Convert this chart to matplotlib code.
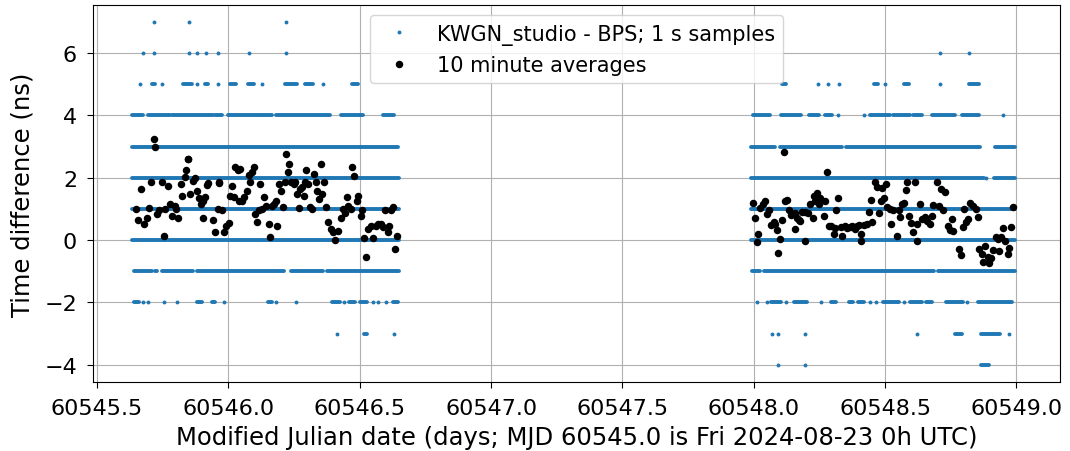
import numpy as np
import matplotlib.pyplot as plt
from matplotlib.ticker import FormatStrFormatter

# ---- 1 s samples (integer ns levels): runs of samples and lone samples, MJD ----
runs_p7 = []
dots_p7 = [60545.717, 60545.850, 60546.220]

runs_p6 = []
dots_p6 = [60545.675, 60545.717, 60545.850, 60545.879, 60545.914, 60545.962,
           60546.079, 60546.220, 60548.710, 60548.821]

runs_p5 = [(60545.708, 60545.721), (60545.829, 60545.860), (60545.911, 60545.924),
           (60546.006, 60546.029), (60546.076, 60546.098), (60546.216, 60546.260),
           (60546.292, 60546.324), (60546.470, 60546.495),
           (60548.107, 60548.124), (60548.456, 60548.472), (60548.571, 60548.590),
           (60548.818, 60548.856)]
dots_p5 = [60545.664, 60545.749, 60545.880, 60545.962, 60546.127, 60546.359,
           60548.243, 60548.281, 60548.323, 60548.501, 60548.708]

runs_p4 = [(60545.635, 60545.676), (60545.693, 60545.778), (60545.784, 60545.943),
           (60545.949, 60545.975), (60545.998, 60546.108), (60546.114, 60546.165),
           (60546.180, 60546.387), (60546.428, 60546.512), (60546.588, 60546.631),
           (60547.997, 60548.063), (60548.104, 60548.180), (60548.209, 60548.249),
           (60548.272, 60548.298), (60548.441, 60548.517), (60548.530, 60548.596),
           (60548.606, 60548.640), (60548.679, 60548.767), (60548.793, 60548.856)]
dots_p4 = [60548.321, 60548.418, 60548.948]

runs_p3 = [(60545.635, 60546.645), (60547.989, 60548.082), (60548.098, 60548.336),
           (60548.352, 60548.860), (60548.920, 60548.996)]
dots_p3 = []

runs_p2 = [(60545.635, 60546.648), (60547.989, 60548.875), (60548.916, 60548.996)]
dots_p2 = [60548.885]

runs_p1 = [(60545.635, 60546.648), (60547.989, 60548.996)]
dots_p1 = []

runs_0 = [(60545.635, 60546.648), (60547.989, 60548.996)]
dots_0 = []

runs_m1 = [(60545.642, 60545.708), (60545.721, 60545.730), (60545.746, 60545.867),
           (60545.880, 60546.210), (60546.238, 60546.359), (60546.375, 60546.650),
           (60547.993, 60548.025), (60548.040, 60548.687), (60548.700, 60548.996)]
dots_m1 = []

runs_m2 = [(60545.642, 60545.661), (60545.882, 60545.899), (60545.937, 60545.949),
           (60546.152, 60546.165), (60546.396, 60546.425), (60546.461, 60546.483),
           (60546.502, 60546.527), (60546.628, 60546.647),
           (60548.065, 60548.104), (60548.154, 60548.203), (60548.294, 60548.314),
           (60548.361, 60548.378), (60548.395, 60548.421), (60548.492, 60548.552),
           (60548.596, 60548.640), (60548.657, 60548.679), (60548.733, 60548.797),
           (60548.852, 60548.983)]
dots_m2 = [60545.676, 60545.695, 60545.756, 60545.803, 60545.984, 60546.180,
           60546.258, 60546.441, 60546.550, 60546.571, 60546.601,
           60548.012, 60548.050, 60548.124, 60548.257, 60548.441, 60548.467,
           60548.573, 60548.812]

runs_m3 = [(60546.517, 60546.527), (60548.765, 60548.793), (60548.863, 60548.939)]
dots_m3 = [60546.413, 60546.632, 60548.069, 60548.092, 60548.196, 60548.621, 60548.970]

runs_m4 = [(60548.863, 60548.894)]
dots_m4 = [60548.091, 60548.196]

# ---- 10 minute averages ----
avg_mjd = [
    60545.649, 60545.657, 60545.666, 60545.680, 60545.689, 60545.699, 60545.706,
    60545.715, 60545.721, 60545.730, 60545.737, 60545.749, 60545.756, 60545.759,
    60545.769, 60545.776, 60545.784, 60545.795, 60545.800, 60545.810, 60545.820,
    60545.825, 60545.833, 60545.839, 60545.845, 60545.848, 60545.854, 60545.867,
    60545.873, 60545.880, 60545.888, 60545.896, 60545.902, 60545.905, 60545.911,
    60545.918, 60545.924, 60545.943, 60545.949, 60545.960, 60545.965,
    60545.963, 60545.976, 60545.982, 60545.992, 60546.001, 60546.005, 60546.014,
    60546.020, 60546.027, 60546.036, 60546.046, 60546.040, 60546.052, 60546.061,
    60546.069, 60546.078, 60546.084, 60546.088, 60546.097, 60546.103, 60546.109,
    60546.116, 60546.122, 60546.128, 60546.137, 60546.145, 60546.154, 60546.160,
    60546.166, 60546.175, 60546.183, 60546.185, 60546.192, 60546.201, 60546.208,
    60546.217, 60546.221, 60546.227, 60546.230, 60546.239, 60546.249, 60546.255,
    60546.262, 60546.268, 60546.274, 60546.281, 60546.287, 60546.293, 60546.297,
    60546.302, 60546.310, 60546.319,
    60546.326, 60546.333, 60546.339, 60546.345, 60546.352, 60546.358, 60546.364,
    60546.373, 60546.381, 60546.390, 60546.399, 60546.406, 60546.419, 60546.428,
    60546.437, 60546.444, 60546.450, 60546.457, 60546.466, 60546.472, 60546.479,
    60546.489, 60546.495, 60546.504, 60546.510, 60546.517, 60546.523, 60546.533,
    60546.542, 60546.551, 60546.561, 60546.571, 60546.580, 60546.589, 60546.597,
    60546.606, 60546.612, 60546.618, 60546.627, 60546.635, 60546.641,
    60547.996, 60548.003, 60548.012, 60548.016, 60548.025, 60548.034, 60548.041,
    60548.050, 60548.056, 60548.067, 60548.076, 60548.082, 60548.088, 60548.092,
    60548.098, 60548.107, 60548.114, 60548.120, 60548.126, 60548.133, 60548.143,
    60548.156, 60548.158, 60548.164, 60548.171, 60548.177, 60548.183, 60548.194,
    60548.196, 60548.206, 60548.215, 60548.224, 60548.228, 60548.234, 60548.241,
    60548.247, 60548.253, 60548.266, 60548.272, 60548.279, 60548.285, 60548.295,
    60548.304, 60548.308, 60548.313, 60548.321,
    60548.333, 60548.337, 60548.346, 60548.356, 60548.366, 60548.375, 60548.384,
    60548.392, 60548.401, 60548.407, 60548.409, 60548.420, 60548.430, 60548.439,
    60548.445, 60548.451, 60548.460, 60548.470, 60548.477, 60548.483, 60548.489,
    60548.496, 60548.502, 60548.508, 60548.519, 60548.524, 60548.531, 60548.544,
    60548.553, 60548.557, 60548.566, 60548.572, 60548.578, 60548.585, 60548.591,
    60548.597, 60548.607, 60548.613, 60548.620, 60548.623, 60548.633, 60548.642,
    60548.651, 60548.661, 60548.671, 60548.680, 60548.684,
    60548.696, 60548.704, 60548.713, 60548.719, 60548.729, 60548.738, 60548.747,
    60548.755, 60548.760, 60548.780, 60548.789, 60548.795, 60548.802, 60548.808,
    60548.814, 60548.823, 60548.833, 60548.846, 60548.852, 60548.859, 60548.869,
    60548.874, 60548.882, 60548.890, 60548.897, 60548.903, 60548.912, 60548.922,
    60548.929, 60548.935, 60548.941, 60548.948, 60548.958, 60548.967, 60548.973,
    60548.979, 60548.988]
avg_ns = [
    1.00, 0.66, 1.65, 0.52, 0.70, 1.02, 1.86,
    3.24, 2.99, 0.84, 0.95, 1.86, 0.12, 1.00,
    1.73, 1.16, 0.76, 1.09, 1.00, 0.70, 1.81,
    1.43, 2.02, 2.24, 2.60, 2.61, 1.48, 1.91,
    1.99, 1.59, 1.34, 1.16, 1.27, 0.70, 1.38,
    1.77, 1.84, 0.66, 0.25, 1.00, 1.86,
    1.84, 0.95, 0.25, 0.46, 0.55, 1.43, 1.75,
    1.38, 2.34, 2.24, 2.29, 1.27, 1.24, 1.38,
    1.59, 2.08, 1.86, 2.18, 2.34, 0.84, 0.57,
    0.95, 1.81, 1.00, 1.38, 1.09, 0.52, 0.09,
    1.11, 1.16, 1.27, 0.46, 1.81, 1.59, 1.05,
    1.86, 2.77, 2.20, 2.45, 1.86, 1.81, 1.86,
    1.48, 1.02, 1.65, 1.70, 1.43, 1.86, 2.24,
    1.81, 1.05, 1.00,
    2.13, 1.86, 1.59, 1.32, 2.45, 1.48, 1.86,
    1.05, 0.59, 0.35, 0.25, 0.01, 0.30, 0.70,
    1.00, 0.87, 1.38, 1.11, 1.00, 2.34, 2.05,
    1.24, 1.43, 0.76, 0.97, 0.08, -0.53, 0.35,
    0.44, 0.08, 0.46, 0.52, 0.52, 0.41, 0.98,
    0.25, 0.44, 0.95, 1.05, -0.27, 0.12,
    1.19, 0.70, -0.05, 0.19, 1.02, 1.16, 1.27,
    0.84, 0.97, 0.48, 0.59, 0.52, 0.33, -0.40,
    0.05, 0.66, 2.83, 1.27, 1.29, 0.98, 0.81,
    0.35, 0.87, 0.70, 0.66, 0.62, 0.89, 0.91,
    -0.02, 0.87, 1.16, 0.70, 1.43, 1.24, 1.52,
    1.16, 1.34, 0.76, 1.24, 2.18, 0.44, 0.44,
    0.19, 0.38, 0.95, 1.34,
    0.41, 0.14, 0.44, 0.38, 0.41, 0.44, 0.35,
    0.44, 0.48, -0.02, 0.19, 0.48, 0.52, 0.91,
    1.30, 0.59, 1.86, 1.70, 0.87, 1.27, 1.67,
    1.34, 1.81, 1.05, 1.00, 0.52, 0.98, 0.14,
    0.98, 0.73, 1.16, 1.19, 1.62, 1.86, 0.76,
    0.55, 0.25, 1.88, -0.02, 0.52, 1.16, 0.68,
    0.73, 0.62, 0.52, 0.76, 1.13,
    1.86, 1.11, 1.65, 0.95, 1.54, 0.44, 0.33,
    0.68, 0.30, -0.29, -0.48, 0.41, 1.00, 0.57,
    0.68, 1.19, 1.11, 1.00, 0.73, -0.29, -0.45,
    -0.70, -0.20, -0.53, -0.72, -0.59, -0.31, 0.09,
    0.03, -0.34, 0.09, 0.38, -0.02, -0.45, -0.24,
    0.41, 1.05]

levels = [(7, runs_p7, dots_p7), (6, runs_p6, dots_p6), (5, runs_p5, dots_p5),
          (4, runs_p4, dots_p4), (3, runs_p3, dots_p3), (2, runs_p2, dots_p2),
          (1, runs_p1, dots_p1), (0, runs_0, dots_0), (-1, runs_m1, dots_m1),
          (-2, runs_m2, dots_m2), (-3, runs_m3, dots_m3), (-4, runs_m4, dots_m4)]

plt.rcParams['font.size'] = 16
fig, ax = plt.subplots(figsize=(10.7, 4.52), dpi=100)
fig.subplots_adjust(left=0.087, right=0.991, top=0.987, bottom=0.153)

blue = '#1f77b4'
dot_x, dot_y = [], []
for lev, runs, dots in levels:
    if runs:
        ax.hlines([lev] * len(runs), [r[0] for r in runs], [r[1] for r in runs],
                  color=blue, lw=2.8, capstyle='round')
    dot_x += dots
    dot_y += [lev] * len(dots)

ax.plot(dot_x, dot_y, 'o', color=blue, ms=2.8, mew=0,
        label='KWGN_studio - BPS; 1 s samples')
ax.plot(avg_mjd, avg_ns, 'o', color='black', ms=5.4, mew=0,
        label='10 minute averages')

ax.set_xlim(60545.485, 60549.167)
ax.set_xticks(np.arange(60545.5, 60549.01, 0.5))
ax.xaxis.set_major_formatter(FormatStrFormatter('%.1f'))
ax.set_yticks([-4, -2, 0, 2, 4, 6])
ax.tick_params(labelsize=16, pad=7, length=4.5)
ax.grid(True)
ax.set_xlabel('Modified Julian date (days; MJD 60545.0 is Fri 2024-08-23 0h UTC)',
              fontsize=17.5, labelpad=5)
ax.set_ylabel('Time difference (ns)', fontsize=17.5, labelpad=7)
ax.legend(loc='upper center', fontsize=15)

fig.savefig('out.png')
